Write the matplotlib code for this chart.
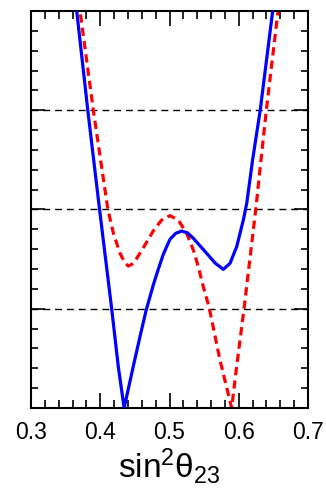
import matplotlib
matplotlib.use('Agg')
import matplotlib.pyplot as plt
from matplotlib.ticker import MultipleLocator

plt.rcParams['font.family'] = ['Liberation Sans', 'DejaVu Sans']
plt.rcParams['mathtext.fontset'] = 'custom'
plt.rcParams['mathtext.rm'] = 'Liberation Sans'
plt.rcParams['mathtext.it'] = 'Liberation Sans:italic'

# solid blue curve
blue_x = [0.3645, 0.366, 0.382, 0.399, 0.4165, 0.426, 0.4345, 0.4477, 0.4574, 0.4661,
          0.4766, 0.4839, 0.4911, 0.5007, 0.509, 0.5176, 0.526, 0.5344, 0.5537, 0.566,
          0.5777, 0.5874, 0.597, 0.6066, 0.6115, 0.62, 0.631, 0.649, 0.651]
blue_y = [4.1, 4.0, 3.0, 2.0, 1.0, 0.42, 0.0, 0.42, 0.72, 0.98,
          1.24, 1.40, 1.55, 1.70, 1.76, 1.783, 1.765, 1.71, 1.558, 1.46,
          1.397, 1.458, 1.625, 1.894, 2.06, 2.5, 3.0, 4.0, 4.1]

# dashed red curve
red_x = [0.3695, 0.3708, 0.39, 0.411, 0.419, 0.4285, 0.435, 0.4405, 0.446, 0.4502,
         0.4622, 0.4766, 0.4887, 0.5007, 0.5127, 0.5248, 0.5344, 0.5416, 0.5488, 0.557,
         0.573, 0.5898, 0.597, 0.6076, 0.6245, 0.6398, 0.6567, 0.658]
red_y = [4.1, 4.0, 3.0, 2.0, 1.76, 1.56, 1.47, 1.43, 1.45, 1.48,
         1.615, 1.785, 1.894, 1.938, 1.894, 1.76, 1.592, 1.424, 1.222, 1.02,
         0.48, 0.0, 0.42, 1.0, 2.0, 3.0, 4.0, 4.1]

ref_levels = [1, 2, 3]
x_ticks = [0.3, 0.4, 0.5, 0.6, 0.7]

fig = plt.figure(figsize=(3.26, 4.9), dpi=100)
ax = fig.add_axes([0.0951, 0.1673, 0.8497, 0.8103])

for lev in ref_levels:
    ax.axhline(lev, color='black', lw=1.0, ls=(0, (5, 3.5)), zorder=1)

ax.plot(blue_x, blue_y, color='#0000ff', lw=2.3, solid_joinstyle='round', zorder=3)
ax.plot(red_x, red_y, color='#ff0000', lw=2.3, ls=(0, (2.6, 1.6)), zorder=2)

ax.set_xlim(0.3, 0.7)
ax.set_ylim(0, 4)
ax.set_xticks(x_ticks)
ax.set_xticklabels([f'{t:.1f}' for t in x_ticks])
ax.xaxis.set_minor_locator(MultipleLocator(0.02))
ax.yaxis.set_major_locator(MultipleLocator(1))
ax.yaxis.set_minor_locator(MultipleLocator(0.2))
ax.tick_params(which='both', direction='in', top=True, right=True, width=1.2, color='black')
ax.tick_params(axis='x', which='major', length=11, labelsize=16.5, pad=9)
ax.tick_params(axis='x', which='minor', length=6)
ax.tick_params(axis='y', which='major', length=10, labelleft=False)
ax.tick_params(axis='y', which='minor', length=5)
for sp in ax.spines.values():
    sp.set_linewidth(1.5)

ax.set_xlabel(r'$\mathrm{sin}^2\mathrm{\theta}_{23}$', fontsize=24, labelpad=2)

fig.savefig('out.png', dpi=100)
